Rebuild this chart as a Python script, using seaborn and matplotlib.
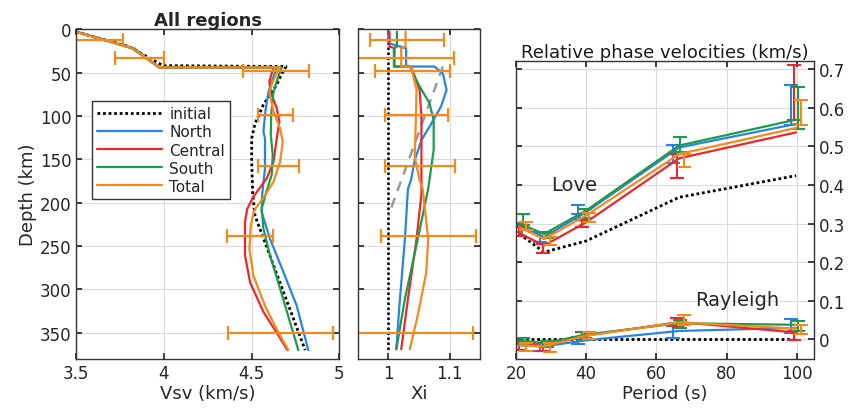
import numpy as np
import pandas as pd
import matplotlib
matplotlib.use("Agg")
import matplotlib.pyplot as plt
import seaborn as sns

sns.set_theme(style="whitegrid")
plt.rcParams["font.family"] = ["DejaVu Sans"]

# ---------------- data ----------------
regions = ["North", "Central", "South", "Total"]
colors = {"initial": "black", "North": "#2a82e4", "Central": "#e8282d",
          "South": "#1f9a4c", "Total": "#f28a1e"}

# Vsv profiles (depth km, Vsv km/s)
vsv_initial_d = [3, 20, 42, 43, 52, 64, 87, 109, 126, 153, 190, 215, 370]
vsv_initial_v = [3.5, 3.80, 3.995, 4.696, 4.67, 4.643, 4.567, 4.519, 4.50, 4.50, 4.506, 4.519, 4.805]
vsv_north_d = [3, 22, 44, 44, 60, 73, 95, 118, 126, 160, 191, 211, 242, 280, 319, 370]
vsv_north_v = [3.5, 3.82, 3.97, 4.643, 4.615, 4.595, 4.578, 4.567, 4.576, 4.576, 4.56, 4.557, 4.605, 4.681, 4.757, 4.823]
vsv_central_d = [3, 22, 44, 44, 60, 73, 91, 107, 126, 153, 172, 193, 207, 222, 261, 292, 326, 353, 370]
vsv_central_v = [3.5, 3.82, 3.975, 4.624, 4.601, 4.609, 4.643, 4.658, 4.643, 4.624, 4.586, 4.51, 4.475, 4.462, 4.462, 4.491, 4.567, 4.652, 4.704]
vsv_south_d = [3, 22, 44, 44, 60, 73, 99, 122, 145, 168, 186, 207, 230, 261, 299, 338, 370]
vsv_south_v = [3.5, 3.83, 3.975, 4.671, 4.643, 4.624, 4.611, 4.609, 4.62, 4.614, 4.586, 4.557, 4.567, 4.605, 4.662, 4.719, 4.766]
vsv_total_d = [3, 22, 44, 44, 60, 73, 95, 114, 130, 153, 176, 192, 209, 226, 253, 284, 319, 346, 370]
vsv_total_v = [3.5, 3.82, 3.975, 4.662, 4.62, 4.601, 4.624, 4.662, 4.677, 4.662, 4.624, 4.575, 4.514, 4.495, 4.487, 4.510, 4.576, 4.643, 4.709]

# Xi profiles
xi_initial_d = [3, 370]
xi_initial_v = [1.0, 1.0]
xi_ref_d = [43, 215]
xi_ref_v = [1.089, 1.0]
xi_north_d = [3, 16, 22, 43, 43, 51, 70, 89, 109, 128, 151, 174, 184, 242, 319, 369]
xi_north_v = [1.0, 1.0, 1.029, 1.029, 1.075, 1.089, 1.095, 1.086, 1.07, 1.054, 1.043, 1.037, 1.032, 1.027, 1.018, 1.013]
xi_central_d = [3, 20, 22, 43, 43, 70, 101, 190, 242, 311, 369]
xi_central_v = [1.002, 1.002, 1.01, 1.01, 1.037, 1.051, 1.054, 1.054, 1.046, 1.032, 1.021]
xi_south_d = [3, 20, 22, 43, 43, 66, 85, 105, 139, 174, 184, 242, 311, 369]
xi_south_v = [1.014, 1.014, 1.009, 1.009, 1.035, 1.051, 1.067, 1.074, 1.074, 1.067, 1.065, 1.048, 1.027, 1.013]
xi_total_d = [3, 20, 22, 43, 43, 70, 101, 147, 174, 184, 242, 280, 330, 369]
xi_total_v = [1.028, 1.028, 1.021, 1.021, 1.037, 1.046, 1.045, 1.043, 1.051, 1.056, 1.065, 1.062, 1.048, 1.035]

# Orange (Total) uncertainty bars
err_depth = [13, 33, 48, 99, 158, 239, 350]
vsv_err_center = [3.62, 3.86, 4.641, 4.635, 4.655, 4.491, 4.664]
vsv_err_half = [0.145, 0.14, 0.188, 0.10, 0.117, 0.133, 0.30]
xi_err_center = [1.030, 1.021, 1.040, 1.046, 1.051, 1.066, 1.040]
xi_err_half = [0.0606, 0.086, 0.061, 0.051, 0.057, 0.0775, 0.098]

# Relative phase velocities
periods = [21, 28, 40, 66.5, 99.8]
obs_periods = [21.4, 28.3, 39.3, 66.3, 99.8]
obs_offset = {"North": -1.5, "Central": -0.5, "South": 0.5, "Total": 1.5}

love_initial = [0.273, 0.226, 0.255, 0.368, 0.424]
love_pred = {"North": [0.295, 0.265, 0.33, 0.497, 0.558],
             "Central": [0.275, 0.243, 0.3035, 0.469, 0.536],
             "South": [0.30, 0.273, 0.334, 0.502, 0.569],
             "Total": [0.29, 0.26, 0.321, 0.48, 0.5475]}
love_obs = {"North": [0.29, 0.265, 0.336, 0.48, 0.607],
            "Central": [0.28, 0.235, 0.30, 0.449, 0.64],
            "South": [0.31, 0.27, 0.326, 0.504, 0.599],
            "Total": [0.293, 0.255, 0.316, 0.4635, 0.588]}
love_err = {"North": [0.012, 0.012, 0.011, 0.024, 0.052],
            "Central": [0.012, 0.012, 0.010, 0.031, 0.071],
            "South": [0.015, 0.008, 0.011, 0.019, 0.054],
            "Total": [0.010, 0.010, 0.011, 0.017, 0.032]}

ray_initial = [0.0, 0.0, 0.0, 0.0, 0.0]
ray_pred = {"North": [-0.015, -0.018, -0.002, 0.022, 0.03],
            "Central": [-0.01, -0.017, 0.01, 0.045, 0.018],
            "South": [-0.002, -0.01, 0.013, 0.042, 0.038],
            "Total": [-0.015, -0.018, 0.01, 0.044, 0.028]}
ray_obs = {"North": [-0.015, -0.02, -0.003, 0.02, 0.035],
           "Central": [-0.017, -0.02, 0.01, 0.045, 0.01],
           "South": [-0.005, -0.012, 0.012, 0.04, 0.035],
           "Total": [-0.02, -0.02, 0.01, 0.05, 0.025]}
ray_err = {"North": [0.012, 0.010, 0.010, 0.015, 0.018],
           "Central": [0.010, 0.010, 0.008, 0.010, 0.012],
           "South": [0.008, 0.008, 0.008, 0.010, 0.012],
           "Total": [0.010, 0.012, 0.010, 0.012, 0.012]}

# ---------------- figure ----------------
fig = plt.figure(figsize=(8.57, 4.14), dpi=100)
ax1 = fig.add_axes([0.089, 0.131, 0.307, 0.796])
ax2 = fig.add_axes([0.4174, 0.131, 0.143, 0.796])
ax3 = fig.add_axes([0.6021, 0.131, 0.3481, 0.7185])

edge = "#333333"
tick_kw = dict(direction="in", labelsize=12, colors="#262626", length=4)
for ax in (ax1, ax2, ax3):
    ax.set_facecolor("white")
    for s in ax.spines.values():
        s.set_color(edge)
        s.set_linewidth(1.0)
    ax.grid(True, color="#dcdcdc", linewidth=0.8)
    ax.tick_params(axis="both", which="both", top=True, bottom=True,
                   left=True, right=True, **tick_kw)

lw = 1.6
vsv = {"North": (vsv_north_d, vsv_north_v), "Central": (vsv_central_d, vsv_central_v),
       "South": (vsv_south_d, vsv_south_v), "Total": (vsv_total_d, vsv_total_v)}
xis = {"North": (xi_north_d, xi_north_v), "Central": (xi_central_d, xi_central_v),
       "South": (xi_south_d, xi_south_v), "Total": (xi_total_d, xi_total_v)}

# Panel 1: Vsv
sns.lineplot(x=vsv_initial_v, y=vsv_initial_d, sort=False, estimator=None, ax=ax1,
             color="black", linestyle=(0, (1, 1)), linewidth=2.0, label="initial")
for r in regions:
    d, v = vsv[r]
    sns.lineplot(x=v, y=d, sort=False, estimator=None, ax=ax1,
                 color=colors[r], linewidth=lw, label=r)
ax1.errorbar(vsv_err_center, err_depth, xerr=vsv_err_half, fmt="none",
             ecolor=colors["Total"], elinewidth=1.6, capsize=5, capthick=1.6)
ax1.set_xlim(3.5, 5)
ax1.set_ylim(380, 0)
ax1.set_xticks([3.5, 4, 4.5, 5])
ax1.set_xticklabels(["3.5", "4", "4.5", "5"])
ax1.set_yticks([0, 50, 100, 150, 200, 250, 300, 350])
ax1.set_xlabel("Vsv (km/s)", fontsize=13, color="#262626", labelpad=2)
ax1.set_ylabel("Depth (km)", fontsize=13, color="#262626", labelpad=2)
ax1.set_title("All regions", fontsize=13, fontweight="bold", pad=3)
leg = ax1.legend(loc="upper left", bbox_to_anchor=(0.06, 0.782), fontsize=11,
                 frameon=True, fancybox=False, edgecolor="#333333", framealpha=1,
                 handlelength=4.2, handletextpad=0.5, borderpad=0.35,
                 labelspacing=0.2, borderaxespad=0)
leg.get_frame().set_linewidth(1.0)

# Panel 2: Xi
sns.lineplot(x=xi_initial_v, y=xi_initial_d, sort=False, estimator=None, ax=ax2,
             color="black", linestyle=(0, (1, 1)), linewidth=1.8)
sns.lineplot(x=xi_ref_v, y=xi_ref_d, sort=False, estimator=None, ax=ax2,
             color="#999999", linestyle=(0, (4, 3)), linewidth=1.8)
for r in regions:
    d, v = xis[r]
    sns.lineplot(x=v, y=d, sort=False, estimator=None, ax=ax2,
                 color=colors[r], linewidth=lw)
ax2.errorbar(xi_err_center, err_depth, xerr=xi_err_half, fmt="none",
             ecolor=colors["Total"], elinewidth=1.6, capsize=5, capthick=1.6)
ax2.set_xlim(0.95, 1.15)
ax2.set_ylim(380, 0)
ax2.set_xticks([1.0, 1.1])
ax2.set_xticklabels(["1", "1.1"])
ax2.set_yticks([0, 50, 100, 150, 200, 250, 300, 350])
ax2.tick_params(labelleft=False)
ax2.set_xlabel("Xi", fontsize=13, color="#262626", labelpad=2)
ax2.set_ylabel("")

# Panel 3: phase velocities
for ys, init in ((love_pred, love_initial), (ray_pred, ray_initial)):
    sns.lineplot(x=periods, y=init, ax=ax3, color="black",
                 linestyle=(0, (1, 1)), linewidth=2.0)
for r in regions:
    xo = [p + obs_offset[r] for p in obs_periods]
    sns.lineplot(x=periods, y=love_pred[r], ax=ax3, color=colors[r], linewidth=lw)
    sns.lineplot(x=periods, y=ray_pred[r], ax=ax3, color=colors[r], linewidth=lw)
    ax3.errorbar(xo, love_obs[r], yerr=love_err[r], fmt="none", ecolor=colors[r],
                 elinewidth=1.5, capsize=5, capthick=1.5)
    ax3.errorbar(xo, ray_obs[r], yerr=ray_err[r], fmt="none", ecolor=colors[r],
                 elinewidth=1.5, capsize=5, capthick=1.5)
ax3.set_xlim(20, 105)
ax3.set_ylim(-0.05, 0.72)
ax3.set_xticks([20, 40, 60, 80, 100])
ax3.set_yticks([0, 0.1, 0.2, 0.3, 0.4, 0.5, 0.6, 0.7])
ax3.set_yticklabels(["0", "0.1", "0.2", "0.3", "0.4", "0.5", "0.6", "0.7"])
ax3.tick_params(labelleft=False, labelright=True)
ax3.set_xlabel("Period (s)", fontsize=13, color="#262626", labelpad=2)
ax3.set_ylabel("")
ax3.set_title("Relative phase velocities (km/s)", fontsize=13, pad=3, color="#1a1a1a")
ax3.text(30, 0.40, "Love", fontsize=14, ha="left", va="center")
ax3.text(83, 0.103, "Rayleigh", fontsize=14, ha="center", va="center")

fig.savefig("out.png", dpi=100)
